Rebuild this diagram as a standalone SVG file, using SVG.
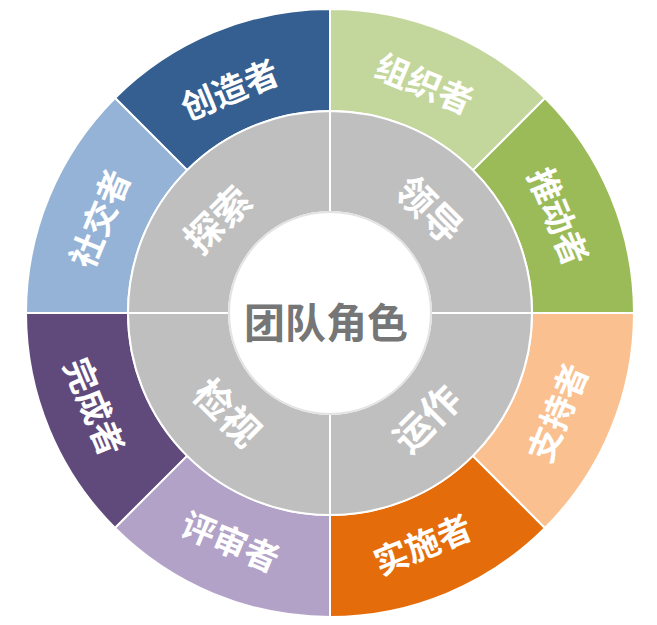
<svg xmlns="http://www.w3.org/2000/svg" width="657" height="625" viewBox="0 0 657 625">
<style>
.seg{stroke:#FFFFFF;stroke-width:2;stroke-linejoin:round}
.t{font-family:"Noto Sans CJK SC","Microsoft YaHei",sans-serif;font-weight:bold;fill:#FFFFFF;text-anchor:middle;dominant-baseline:central}
.o{font-size:34px}
.i{font-size:38px}
.c{font-size:41px;fill:#767676}
</style>
<rect width="657" height="625" fill="#FFFFFF"/>
<g id="outer-ring">
<g id="n-chuangzao"><path class="seg" fill="#365F91" d="M330,9 A304,304 0 0 0 115.04,98.04 L187.16,170.16 A202,202 0 0 1 330,111 Z"/><text class="t o" x="229" y="88" transform="rotate(-22.5 229 88)">创造者</text></g>
<g id="n-shejiao"><path class="seg" fill="#95B3D7" d="M115.04,98.04 A304,304 0 0 0 26,313 L128,313 A202,202 0 0 1 187.16,170.16 Z"/><text class="t o" x="98" y="218" transform="rotate(-67.5 98 218)">社交者</text></g>
<g id="n-wancheng"><path class="seg" fill="#604A7B" d="M26,313 A304,304 0 0 0 115.04,527.96 L187.16,455.84 A202,202 0 0 1 128,313 Z"/><text class="t o" x="96" y="406" transform="rotate(67.5 96 406)">完成者</text></g>
<g id="n-pingshen"><path class="seg" fill="#B3A2C7" d="M115.04,527.96 A304,304 0 0 0 330,617 L330,515 A202,202 0 0 1 187.16,455.84 Z"/><text class="t o" x="231" y="540" transform="rotate(22.5 231 540)">评审者</text></g>
<g id="n-shishi"><path class="seg" fill="#E46C0A" d="M330,617 A304,304 0 0 0 544.96,527.96 L472.84,455.84 A202,202 0 0 1 330,515 Z"/><text class="t o" x="422" y="543" transform="rotate(-22.5 422 543)">实施者</text></g>
<g id="n-zhichi"><path class="seg" fill="#FAC090" d="M544.96,527.96 A304,304 0 0 0 634,313 L532,313 A202,202 0 0 1 472.84,455.84 Z"/><text class="t o" x="556" y="412" transform="rotate(-67.5 556 412)">支持者</text></g>
<g id="n-tuidong"><path class="seg" fill="#9BBB59" d="M634,313 A304,304 0 0 0 544.96,98.04 L472.84,170.16 A202,202 0 0 1 532,313 Z"/><text class="t o" x="560" y="216" transform="rotate(67.5 560 216)">推动者</text></g>
<g id="n-zuzhi"><path class="seg" fill="#C3D69B" d="M544.96,98.04 A304,304 0 0 0 330,9 L330,111 A202,202 0 0 1 472.84,170.16 Z"/><text class="t o" x="425" y="82" transform="rotate(22.5 425 82)">组织者</text></g>
</g>
<g id="inner-ring">
<g id="n-tansuo"><path class="seg" fill="#BFBFBF" d="M330,111 A202,202 0 0 0 128,313 L229,313 A101,101 0 0 1 330,212 Z"/><text class="t i" x="216" y="218" transform="rotate(-45 216 218)">探索</text></g>
<g id="n-lingdao"><path class="seg" fill="#BFBFBF" d="M532,313 A202,202 0 0 0 330,111 L330,212 A101,101 0 0 1 431,313 Z"/><text class="t i" x="431" y="208" transform="rotate(45 431 208)">领导</text></g>
<g id="n-yunzuo"><path class="seg" fill="#BFBFBF" d="M330,515 A202,202 0 0 0 532,313 L431,313 A101,101 0 0 1 330,414 Z"/><text class="t i" x="425" y="417" transform="rotate(-45 425 417)">运作</text></g>
<g id="n-jianshi"><path class="seg" fill="#BFBFBF" d="M128,313 A202,202 0 0 0 330,515 L330,414 A101,101 0 0 1 229,313 Z"/><text class="t i" x="229" y="411" transform="rotate(45 229 411)">检视</text></g>
</g>
<g id="n-center">
<circle cx="330" cy="313" r="101" fill="#FFFFFF" stroke="#E3E3E3" stroke-width="2"/>
<text class="t c" x="326" y="320">团队角色</text>
</g>
<g id="connectors"/>
</svg>
